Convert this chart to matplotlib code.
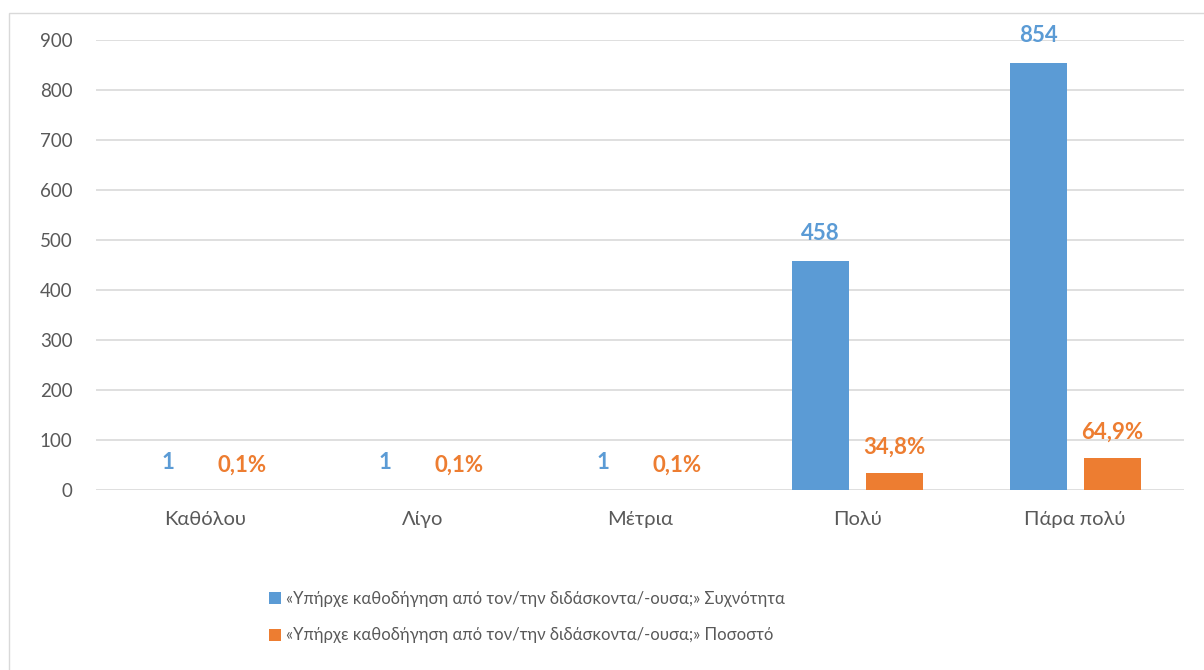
import matplotlib
matplotlib.use("Agg")
import matplotlib.pyplot as plt
import numpy as np
from matplotlib.patches import Rectangle, Patch

categories = ["Καθόλου", "Λίγο", "Μέτρια", "Πολύ", "Πάρα πολύ"]
freq = [1, 1, 1, 458, 854]
pct = [0.1, 0.1, 0.1, 34.8, 64.9]
freq_labels = ["1", "1", "1", "458", "854"]
pct_labels = ["0,1%", "0,1%", "0,1%", "34,8%", "64,9%"]
series_names = ["«Υπήρχε καθοδήγηση από τον/την διδάσκοντα/-ουσα;» Συχνότητα",
                "«Υπήρχε καθοδήγηση από τον/την διδάσκοντα/-ουσα;» Ποσοστό"]
yticks = [0, 100, 200, 300, 400, 500, 600, 700, 800, 900]

BLUE = "#5B9BD5"
ORANGE = "#ED7D31"
TXT = "#595959"

plt.rcParams['font.family'] = ['Lato', 'DejaVu Sans']

W, H = 1204, 670
fig = plt.figure(figsize=(W/100, H/100), dpi=100)
fig.patches.append(Rectangle((8.5/W, -0.1), 1.2, 1.1 - 13.5/H, transform=fig.transFigure,
                             fill=False, edgecolor="#D9D9D9", linewidth=1.0, zorder=0))

ax = fig.add_axes([96/W, 1-490/H, (1184-96)/W, (490-40)/H])
x = np.arange(len(categories))
bw = 0.262
off = 0.17
ax.bar(x - off, freq, bw, color=BLUE, zorder=3)
ax.bar(x + off, pct, bw, color=ORANGE, zorder=3)

for xi, v, lab in zip(x, freq, freq_labels):
    ax.annotate(lab, (xi - off, v), xytext=(0, 19.5), textcoords="offset points",
                ha="center", va="center", color=BLUE, fontsize=16, fontweight="bold")
for xi, v, lab in zip(x, pct, pct_labels):
    ax.annotate(lab, (xi + off, v), xytext=(0, 18), textcoords="offset points",
                ha="center", va="center", color=ORANGE, fontsize=16, fontweight="bold")

ax.set_xlim(-0.5, len(categories) - 0.5)
ax.set_ylim(0, 900)
ax.set_yticks(yticks)
ax.set_xticks(x)
ax.set_xticklabels(categories, fontsize=14.5)
ax.tick_params(axis="y", length=0, labelsize=13.5, labelcolor=TXT, pad=17)
ax.tick_params(axis="x", length=0, labelcolor=TXT, pad=15)
ax.grid(axis="y", color="#D9D9D9", linewidth=1.2, zorder=0)
for s in ax.spines.values():
    s.set_visible(False)

handles = [Patch(facecolor=BLUE), Patch(facecolor=ORANGE)]
fig.legend(handles, series_names, loc="center", bbox_to_anchor=(527/W, 1-617/H),
           frameon=False, prop={'size': 12}, labelcolor=TXT,
           handlelength=0.75, handleheight=0.75, handletextpad=0.3, labelspacing=1.25)

fig.savefig("out.png", dpi=100)
